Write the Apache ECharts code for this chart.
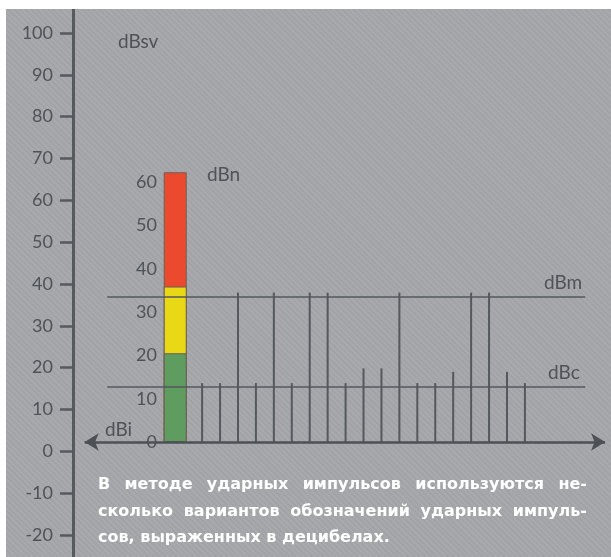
<!DOCTYPE html>
<html><head><meta charset="utf-8">
<script src="https://cdn.jsdelivr.net/npm/echarts@6/dist/echarts.min.js"></script>
<style>
html,body{margin:0;padding:0;background:#fff;width:611px;height:557px;overflow:hidden}
#c{position:absolute;left:6px;top:9px;width:605px;height:548px;
background:repeating-linear-gradient(45deg,#a1a3a6 0px,#a1a3a6 2px,#a7a9ac 2px,#a7a9ac 4px);}
</style></head><body><div id="c"></div>
<script>
// ---- data ----
const outerTicks = [-20,-10,0,10,20,30,40,50,60,70,80,90,100];
const innerTicks = [0,10,20,30,40,50,60];
const spikePos = [1,2,3,4,5,6,7,8,9,10,11,12,13,14,15,16,17,18,19];
const spikeHeights = [13.6,13.6,34.5,13.6,34.5,13.6,34.5,34.5,13.6,17,17,34.5,13.6,13.6,16.2,34.5,34.5,16.2,13.6];
const barPos = -0.5;
// upper edge of each coloured band of the dBsv bar
const bandNames = ['red','yellow','green'];
const bandTops = [62.3, 35.9, 20.5];
const levelNames = ['dBm','dBc'];
const levelValues = [33.6, 12.8];
const levelFrom = -4.29, levelTo = 22.36;
const baseFrom = -5.55, baseTo = 23.47;
const paragraph = [
  'В методе ударных импульсов используются не-',
  'сколько вариантов обозначений ударных импуль-',
  'сов, выраженных в децибелах.'
];

// ---- style ----
const ink = '#55585c';
const labelColor = '#4f5256';
const font = 'Lato';
const bandColors = ['#ec4a2e','#e8d816','#5f9c60'];

const chart = echarts.init(document.getElementById('c'), null, {renderer:'canvas'});

// justified paragraph
const cv = document.createElement('canvas').getContext('2d');
const pFont = 'bold 16px "DejaVu Sans"';
cv.font = pFont;
const pLeft = 92, pRight = 581, pTop = 476, pLH = 26.5;
const graphics = [];
paragraph.forEach((line, li) => {
  const y = pTop + li * pLH;
  if (li === paragraph.length - 1) {
    graphics.push({type:'text', x:pLeft, y:y, style:{text:line, font:pFont, fill:'#fff', textVerticalAlign:'middle'}});
    return;
  }
  const words = line.split(' ');
  const widths = words.map(w => cv.measureText(w).width);
  const total = widths.reduce((a,b)=>a+b,0);
  const gap = (pRight - pLeft - total) / (words.length - 1);
  let x = pLeft;
  words.forEach((w,i) => {
    graphics.push({type:'text', x:x, y:y, style:{text:w, font:pFont, fill:'#fff', textVerticalAlign:'middle'}});
    x += widths[i] + gap;
  });
});
const labFont = '19px Lato';
[['dBsv',112,33],['dBn',201,166],['dBm',538,274],['dBc',542,364],['dBi',99,421]].forEach(t=>{
  graphics.push({type:'text', x:t[1], y:t[2], style:{text:t[0], font:labFont, fill:labelColor, textVerticalAlign:'middle'}});
});

const xBase = {type:'value', min:-6.2, max:23.8, show:false};
const series = [];
bandNames.forEach((n,i)=>{
  series.push({type:'bar', name:n, xAxisIndex:1, yAxisIndex:1, barWidth:23, barGap:'-100%',
    itemStyle:{color:bandColors[i], borderColor:'#6d5f55', borderWidth:1},
    data:[[barPos, bandTops[i]]], z:3});
});
series.push({type:'bar', name:'spikes', xAxisIndex:0, yAxisIndex:1, barWidth:2,
  itemStyle:{color:ink}, data: spikePos.map((p,i)=>[p, spikeHeights[i]]), z:2,
  markLine:{silent:true, animation:false, label:{show:false},
    data:[
      [{coord:[baseFrom,0], symbol:'arrow', symbolSize:[13,14], lineStyle:{color:'#4d5054', width:2.5, type:'solid'}},
       {coord:[baseTo,0], symbol:'arrow', symbolSize:[13,14]}],
      ...levelValues.map((v)=>[
        {coord:[levelFrom,v], symbol:'none', lineStyle:{color:ink, width:1.5, type:'solid'}},
        {coord:[levelTo,v], symbol:'none'}])
    ]}
});

chart.setOption({
  animation:false,
  grid:{left:67, right:0, top:0, bottom:0, containLabel:false},
  xAxis:[xBase, Object.assign({}, xBase)],
  yAxis:[
    {type:'value', min:-25.26, max:105.74, position:'left',
     axisLine:{show:true, onZero:false, lineStyle:{color:'#56595e', width:3}},
     axisTick:{show:true, length:13, customValues:outerTicks, lineStyle:{color:'#56595e', width:2.5}},
     axisLabel:{margin:20, color:labelColor, fontSize:18, fontFamily:font, customValues:outerTicks},
     splitLine:{show:false}},
    {type:'value', min:-26.56, max:100, position:'left', offset:-90,
     axisLine:{show:false, onZero:false}, axisTick:{show:false},
     axisLabel:{margin:6, color:labelColor, fontSize:18, fontFamily:font, customValues:innerTicks},
     splitLine:{show:false}}
  ],
  graphic:graphics,
  series:series
});
</script></body></html>
